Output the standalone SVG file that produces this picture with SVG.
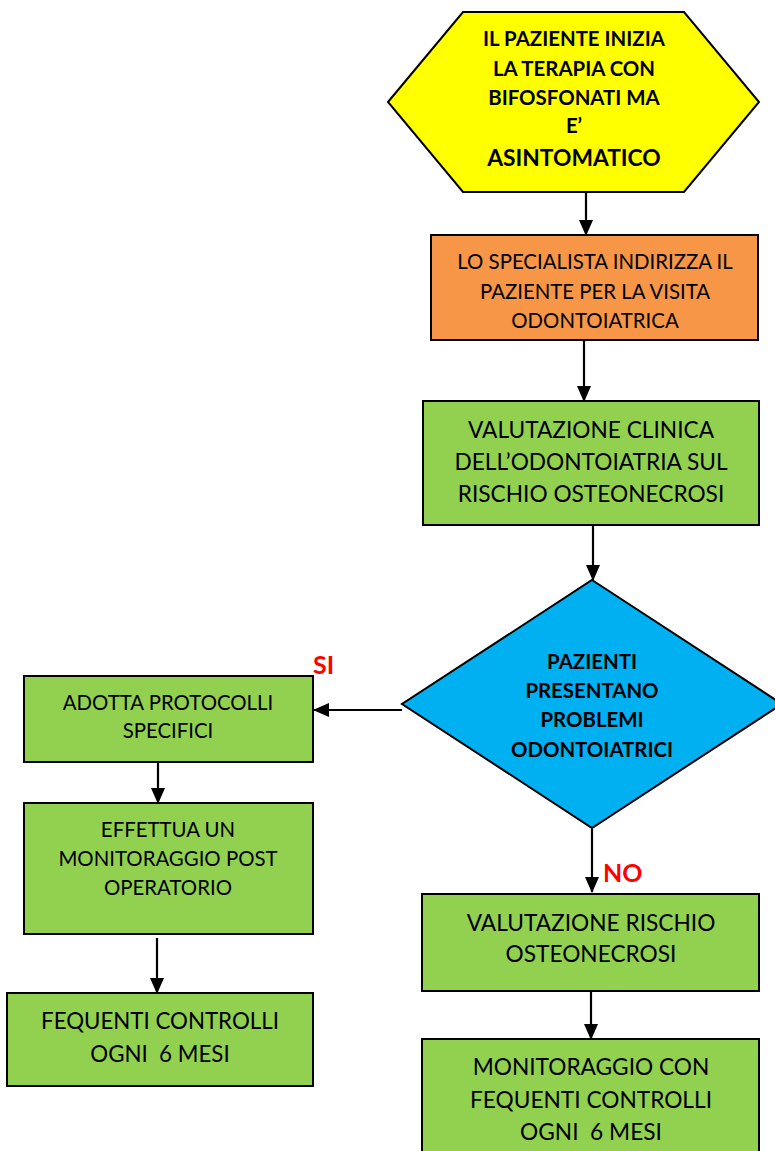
<svg xmlns="http://www.w3.org/2000/svg" width="775" height="1151" viewBox="0 0 775 1151">
<defs>
<style>
.box{stroke:#000;stroke-width:2}
.t{font-family:Lato,"Open Sans","Liberation Sans",sans-serif;font-size:22.7px;fill:#000;text-anchor:middle}
.s{font-size:20.4px}
.b{font-family:Lato,"Open Sans","Liberation Sans",sans-serif;font-weight:bold;font-size:20.4px;fill:#000;text-anchor:middle}
.lbl{font-family:Lato,"Open Sans","Liberation Sans",sans-serif;font-weight:bold;font-size:25px;fill:#FF0000}
.c{stroke:#000;stroke-width:2.2;fill:none;marker-end:url(#ah)}
</style>
<marker id="ah" viewBox="0 0 16 14" refX="15" refY="7" markerWidth="16" markerHeight="14" orient="auto" markerUnits="userSpaceOnUse">
<path d="M0,0 L16,7 L0,14 z" fill="#000"/>
</marker>
</defs>
<rect width="775" height="1151" fill="#fff"/>
<g id="connectors">
<path class="c" d="M586,193 L586,235"/>
<path class="c" d="M584,341 L584,401"/>
<path class="c" d="M593,526 L593,580"/>
<path class="c" d="M402,710 L314,710"/>
<path class="c" d="M592,829 L592,892"/>
<path class="c" d="M158,763 L158,803"/>
<path class="c" d="M157,938 L157,993"/>
<path class="c" d="M591,992 L591,1039"/>
</g>
<g id="n1">
<polygon class="box" fill="#FFFF00" points="388,102 463,12 684,12 759,102 684,192 463,192"/>
<text class="b" x="574" y="46">IL PAZIENTE INIZIA</text>
<text class="b" x="574" y="76">LA TERAPIA CON</text>
<text class="b" x="574" y="105">BIFOSFONATI MA</text>
<text class="b" x="574" y="133">E’</text>
<text class="b" x="574" y="166" style="font-size:22.8px">ASINTOMATICO</text>
</g>
<g id="n2">
<rect class="box" fill="#F79646" x="431" y="235" width="327" height="105"/>
<text class="t s" x="595" y="269">LO SPECIALISTA INDIRIZZA IL</text>
<text class="t s" x="595" y="299">PAZIENTE PER LA VISITA</text>
<text class="t s" x="595" y="328">ODONTOIATRICA</text>
</g>
<g id="n3">
<rect class="box" fill="#92D050" x="423" y="401" width="336" height="124"/>
<text class="t" x="591" y="438">VALUTAZIONE CLINICA</text>
<text class="t" x="591" y="470">DELL’ODONTOIATRIA SUL</text>
<text class="t" x="591" y="502">RISCHIO OSTEONECROSI</text>
</g>
<g id="n4">
<polygon class="box" fill="#00B0F0" points="592,580 782,704 592,828 402,704"/>
<text class="b" x="592" y="669">PAZIENTI</text>
<text class="b" x="592" y="698">PRESENTANO</text>
<text class="b" x="592" y="727">PROBLEMI</text>
<text class="b" x="592" y="757">ODONTOIATRICI</text>
</g>
<text class="lbl" x="313" y="674">SI</text>
<text class="lbl" x="603" y="882">NO</text>
<g id="n5">
<rect class="box" fill="#92D050" x="24" y="676" width="289" height="86"/>
<text class="t s" x="168" y="710">ADOTTA PROTOCOLLI</text>
<text class="t s" x="168" y="738">SPECIFICI</text>
</g>
<g id="n6">
<rect class="box" fill="#92D050" x="24" y="803" width="289" height="131"/>
<text class="t s" x="168" y="837">EFFETTUA UN</text>
<text class="t s" x="168" y="866">MONITORAGGIO POST</text>
<text class="t s" x="168" y="895">OPERATORIO</text>
</g>
<g id="n7">
<rect class="box" fill="#92D050" x="7" y="993" width="306" height="93"/>
<text class="t" x="160" y="1029" style="font-size:22.3px">FEQUENTI CONTROLLI</text>
<text class="t" x="160" y="1062" style="font-size:22.3px" xml:space="preserve">OGNI  6 MESI</text>
</g>
<g id="n8">
<rect class="box" fill="#92D050" x="422" y="894" width="337" height="97"/>
<text class="t" x="591" y="931">VALUTAZIONE RISCHIO</text>
<text class="t" x="591" y="962">OSTEONECROSI</text>
</g>
<g id="n9">
<rect class="box" fill="#92D050" x="422" y="1039" width="337" height="120"/>
<text class="t" x="591" y="1075">MONITORAGGIO CON</text>
<text class="t" x="591" y="1108">FEQUENTI CONTROLLI</text>
<text class="t" x="591" y="1140" xml:space="preserve">OGNI  6 MESI</text>
</g>
</svg>
